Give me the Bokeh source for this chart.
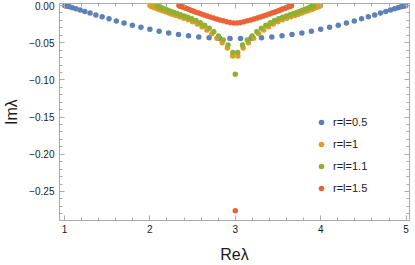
from bokeh.plotting import figure
from bokeh.models import (Range1d, SingleIntervalTicker, LinearAxis, CustomJSTickFormatter,
                          Legend, LegendItem, ColumnDataSource)
from bokeh.embed import file_html
from bokeh.resources import INLINE

# ---- data ----
labels = ["r=l=0.5", "r=l=1", "r=l=1.1", "r=l=1.5"]
colors = ["#5E81B5", "#E19C24", "#8FB032", "#EB6235"]

blue_re = [1.0038, 1.0152, 1.0341, 1.0604, 1.0941, 1.1351, 1.1831, 1.2380, 1.2996, 1.3676,
           1.4416, 1.5215, 1.6069, 1.6981, 1.7947, 1.8956, 2.0000, 2.1085, 2.2204, 2.3353,
           2.4527, 2.5721, 2.6932, 2.8155, 2.9384, 3.0616, 3.1845, 3.3068, 3.4279, 3.5473,
           3.6647, 3.7796, 3.8915, 4.0000, 4.1044, 4.2053, 4.3019, 4.3931, 4.4785, 4.5584,
           4.6324, 4.7004, 4.7620, 4.8169, 4.8649, 4.9059, 4.9396, 4.9659, 4.9848, 4.9962]
blue_im = [-0.0001, -0.0004, -0.0009, -0.0017, -0.0029, -0.0043, -0.0060, -0.0080, -0.0102, -0.0126,
           -0.0152, -0.0179, -0.0207, -0.0236, -0.0265, -0.0293, -0.0320, -0.0345, -0.0368, -0.0389,
           -0.0407, -0.0422, -0.0433, -0.0441, -0.0445, -0.0445, -0.0441, -0.0433, -0.0422, -0.0407,
           -0.0389, -0.0368, -0.0345, -0.0320, -0.0293, -0.0265, -0.0236, -0.0207, -0.0179, -0.0152,
           -0.0126, -0.0102, -0.0080, -0.0060, -0.0043, -0.0029, -0.0017, -0.0009, -0.0004, -0.0001]

orange_re = [2.0019, 2.0076, 2.0170, 2.0302, 2.0471, 2.0675, 2.0916, 2.1190, 2.1498, 2.1838,
             2.2208, 2.2608, 2.3035, 2.3491, 2.3974, 2.4478, 2.5000, 2.5543, 2.6102, 2.6676,
             2.7263, 2.7861, 2.8466, 2.9077, 2.9692, 3.0308, 3.0923, 3.1534, 3.2139, 3.2737,
             3.3324, 3.3898, 3.4457, 3.5000, 3.5522, 3.6026, 3.6509, 3.6965, 3.7392, 3.7792,
             3.8162, 3.8502, 3.8810, 3.9084, 3.9325, 3.9529, 3.9698, 3.9830, 3.9924, 3.9981]
orange_im = [-0.0001, -0.0004, -0.0009, -0.0016, -0.0025, -0.0035, -0.0046, -0.0058, -0.0071, -0.0085,
             -0.0100, -0.0116, -0.0133, -0.0151, -0.0171, -0.0193, -0.0218, -0.0250, -0.0285, -0.0330,
             -0.0380, -0.0440, -0.0500, -0.0570, -0.0680, -0.0680, -0.0570, -0.0500, -0.0440, -0.0380,
             -0.0330, -0.0285, -0.0250, -0.0218, -0.0193, -0.0171, -0.0151, -0.0133, -0.0116, -0.0100,
             -0.0085, -0.0071, -0.0058, -0.0046, -0.0035, -0.0025, -0.0016, -0.0009, -0.0004, -0.0001]

green_re = [2.0818, 2.0870, 2.0957, 2.1078, 2.1233, 2.1421, 2.1642, 2.1895, 2.2178, 2.2491,
            2.2831, 2.3199, 2.3592, 2.4011, 2.4456, 2.4920, 2.5400, 2.5899, 2.6414, 2.6942,
            2.7482, 2.8032, 2.8589, 2.9151, 2.9717, 3.0283, 3.0849, 3.1411, 3.1968, 3.2518,
            3.3058, 3.3586, 3.4101, 3.4600, 3.5080, 3.5544, 3.5989, 3.6408, 3.6801, 3.7169,
            3.7509, 3.7822, 3.8105, 3.8358, 3.8579, 3.8767, 3.8922, 3.9043, 3.9130, 3.9182,
            3.0000]
green_im = [-0.0001, -0.0004, -0.0008, -0.0015, -0.0023, -0.0033, -0.0043, -0.0054, -0.0066, -0.0079,
            -0.0093, -0.0108, -0.0124, -0.0140, -0.0159, -0.0179, -0.0203, -0.0233, -0.0265, -0.0307,
            -0.0353, -0.0409, -0.0465, -0.0530, -0.0632, -0.0632, -0.0530, -0.0465, -0.0409, -0.0353,
            -0.0307, -0.0265, -0.0233, -0.0203, -0.0179, -0.0159, -0.0140, -0.0124, -0.0108, -0.0093,
            -0.0079, -0.0066, -0.0054, -0.0043, -0.0033, -0.0023, -0.0015, -0.0008, -0.0004, -0.0001,
            -0.0925]

red_re = [2.3413, 2.3450, 2.3512, 2.3599, 2.3711, 2.3846, 2.4004, 2.4186, 2.4389, 2.4613,
          2.4857, 2.5121, 2.5403, 2.5704, 2.6023, 2.6355, 2.6700, 2.7058, 2.7428, 2.7806,
          2.8194, 2.8588, 2.8988, 2.9391, 2.9797, 3.0203, 3.0609, 3.1012, 3.1412, 3.1806,
          3.2194, 3.2572, 3.2942, 3.3300, 3.3645, 3.3977, 3.4296, 3.4597, 3.4879, 3.5143,
          3.5387, 3.5612, 3.5815, 3.5996, 3.6154, 3.6289, 3.6401, 3.6488, 3.6550, 3.6587,
          3.0000]
red_im = [-0.0001, -0.0002, -0.0005, -0.0009, -0.0014, -0.0021, -0.0028, -0.0036, -0.0045, -0.0055,
          -0.0066, -0.0077, -0.0089, -0.0102, -0.0115, -0.0128, -0.0141, -0.0155, -0.0168, -0.0181,
          -0.0194, -0.0206, -0.0217, -0.0227, -0.0235, -0.0235, -0.0227, -0.0217, -0.0206, -0.0194,
          -0.0181, -0.0168, -0.0155, -0.0141, -0.0128, -0.0115, -0.0102, -0.0089, -0.0077, -0.0066,
          -0.0055, -0.0045, -0.0036, -0.0028, -0.0021, -0.0014, -0.0009, -0.0005, -0.0002, -0.0001,
          -0.276]

series = [(blue_re, blue_im), (orange_re, orange_im), (green_re, green_im), (red_re, red_im)]

# ---- figure ----
FONT = "Liberation Sans"
FRAME = "#ababab"

p = figure(width=415, height=265, output_backend="svg", toolbar_location=None,
           x_range=Range1d(0.942, 5.04), y_range=Range1d(-0.289, 0.0027),
           x_axis_location=None, y_axis_location=None,
           min_border_left=57, min_border_right=6, min_border_top=3, min_border_bottom=45)
p.grid.visible = False
p.outline_line_color = FRAME
p.background_fill_color = "white"
p.border_fill_color = "white"

xt = SingleIntervalTicker(interval=1, num_minor_ticks=5)
yt = SingleIntervalTicker(interval=0.05, num_minor_ticks=5)
yfmt = CustomJSTickFormatter(code="""
    const v = Math.abs(tick) < 1e-9 ? 0 : tick;
    return (v < 0 ? '\u2212' : '') + Math.abs(v).toFixed(2);
""")
xfmt = CustomJSTickFormatter(code="return Math.round(tick).toString();")
blank = CustomJSTickFormatter(code="return '';")

def style(ax, show_labels):
    ax.axis_line_color = FRAME
    ax.major_tick_line_color = FRAME
    ax.minor_tick_line_color = FRAME
    ax.major_tick_in = 5
    ax.major_tick_out = 0
    ax.minor_tick_in = 3
    ax.minor_tick_out = 0
    if show_labels:
        ax.major_label_text_font = FONT
        ax.major_label_text_font_size = "10px"
        ax.major_label_text_color = "#1a1a1a"
        ax.major_label_standoff = 4
        ax.axis_label_text_font = FONT
        ax.axis_label_text_font_size = "16px"
        ax.axis_label_text_font_style = "normal"
        ax.axis_label_text_color = "#1a1a1a"
        ax.axis_label_standoff = 10
    else:
        ax.major_label_standoff = 0

xb = LinearAxis(ticker=xt, formatter=xfmt, axis_label="Re\u03bb")
style(xb, True)
yl = LinearAxis(ticker=yt, formatter=yfmt, axis_label="Im\u03bb")
style(yl, True)
yl.major_label_standoff = 5
yl.axis_label_standoff = 6
xa = LinearAxis(ticker=xt, formatter=blank)
style(xa, False)
yr = LinearAxis(ticker=yt, formatter=blank)
style(yr, False)
p.add_layout(xb, "below")
p.add_layout(yl, "left")
p.add_layout(xa, "above")
p.add_layout(yr, "right")

items = []
for (re_, im_), col, lab in zip(series, colors, labels):
    src = ColumnDataSource(data=dict(x=re_, y=im_))
    r = p.scatter("x", "y", source=src, size=5.5, fill_color=col, line_color=None)
    items.append(LegendItem(label=lab, renderers=[r]))

leg = Legend(items=items, location=(255, 24), orientation="vertical",
             border_line_color=None, background_fill_alpha=0,
             label_text_font=FONT, label_text_font_size="11px", label_text_color="#1a1a1a",
             glyph_width=14, glyph_height=16, label_height=16, spacing=6,
             label_standoff=5, padding=0, margin=0)
p.add_layout(leg, "center")

open("out.html", "w").write(file_html(p, INLINE))
